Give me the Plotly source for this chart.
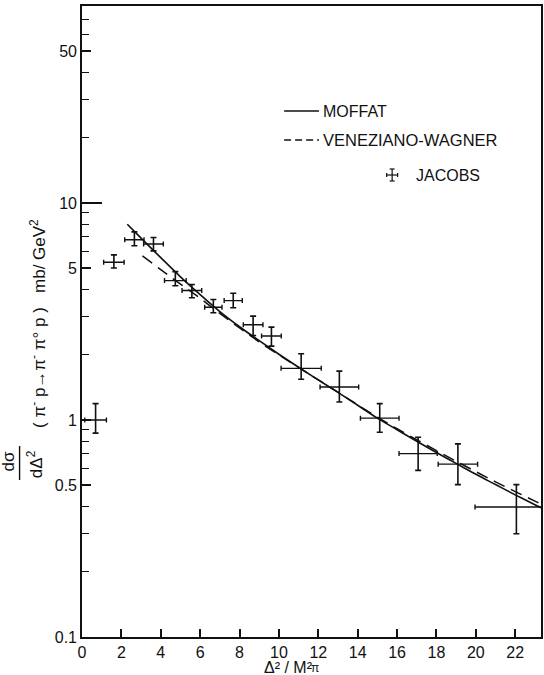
import plotly.graph_objects as go

# Jacobs measurements: momentum transfer Δ²/Mπ² and dσ/dΔ² (mb/GeV²)
jacobs_t = [0.69, 1.62, 2.66, 3.63, 4.74, 5.58, 6.67, 7.68, 8.69, 9.62,
            11.13, 13.07, 15.12, 17.07, 19.09, 22.06]
jacobs_sigma = [1.00, 5.33, 6.77, 6.47, 4.39, 3.95, 3.31, 3.55, 2.75, 2.44,
                1.73, 1.42, 1.02, 0.70, 0.626, 0.397]
jacobs_t_err = [0.55, 0.52, 0.49, 0.50, 0.55, 0.50, 0.44, 0.46, 0.50, 0.50,
                1.02, 0.98, 0.98, 0.97, 1.00, 2.10]
jacobs_sigma_hi = [1.19, 5.77, 7.36, 6.94, 4.83, 4.21, 3.59, 3.84, 3.01, 2.68,
                   2.02, 1.68, 1.19, 0.833, 0.776, 0.504]
jacobs_sigma_lo = [0.87, 5.02, 6.35, 6.02, 4.16, 3.66, 3.12, 3.29, 2.45, 2.19,
                   1.54, 1.21, 0.878, 0.586, 0.504, 0.299]

# Moffat prediction
moffat_t = [2.3, 3, 4, 5, 6, 7, 8, 9, 10, 11, 12, 13, 14, 15, 16, 17, 18,
            19, 20, 21, 22, 23, 23.4]
moffat_sigma = [7.98, 6.89, 5.60, 4.57, 3.78, 3.16, 2.69, 2.32, 2.01, 1.75,
                1.53, 1.34, 1.17, 1.02, 0.902, 0.798, 0.708, 0.631, 0.562,
                0.504, 0.452, 0.407, 0.391]

# Veneziano-Wagner prediction
vw_t = [3.07, 4, 5, 6, 7, 8, 9, 10, 11, 12, 13, 14, 15, 16, 17, 18, 19, 20,
        21, 22, 23, 23.4]
vw_sigma = [5.71, 4.93, 4.23, 3.64, 3.10, 2.66, 2.29, 1.995, 1.746, 1.531,
            1.343, 1.175, 1.030, 0.912, 0.811, 0.723, 0.646, 0.578, 0.519,
            0.468, 0.423, 0.407]

x_ticks = [0, 2, 4, 6, 8, 10, 12, 14, 16, 18, 20, 22]
y_ticks = [0.1, 0.5, 1, 5, 10, 50]
y_tick_text = ["0.1", "0.5", "1", "5", "10", "50"]
y_minor = [0.2, 0.3, 0.4, 0.6, 0.7, 0.8, 0.9, 2, 3, 4, 6, 7, 8, 9,
           20, 30, 40, 60, 70]

FONT = "Liberation Sans"
INK = "#111111"

err_plus = [h - s for h, s in zip(jacobs_sigma_hi, jacobs_sigma)]
err_minus = [s - l for s, l in zip(jacobs_sigma, jacobs_sigma_lo)]

fig = go.Figure()

fig.add_trace(go.Scatter(
    x=moffat_t, y=moffat_sigma, mode="lines", name="MOFFAT",
    line=dict(color=INK, width=1.6, shape="spline"),
))
fig.add_trace(go.Scatter(
    x=vw_t, y=vw_sigma, mode="lines", name="VENEZIANO-WAGNER",
    line=dict(color=INK, width=1.5, dash="12px,7px", shape="spline"),
))
fig.add_trace(go.Scatter(
    x=jacobs_t, y=jacobs_sigma, mode="markers", name="JACOBS",
    marker=dict(size=1, color=INK),
    error_x=dict(type="data", array=jacobs_t_err, color=INK,
                 thickness=1.4, width=2.5),
    error_y=dict(type="data", array=err_plus, arrayminus=err_minus,
                 color=INK, thickness=1.6, width=3),
))

# Second left axis carrying only the long tick at 10
fig.add_trace(go.Scatter(x=[None], y=[None], yaxis="y2", showlegend=False))

fig.update_layout(
    width=544, height=675,
    margin=dict(l=82, r=1, t=6, b=38),
    paper_bgcolor="white", plot_bgcolor="white",
    showlegend=False,
    font=dict(family=FONT, color=INK, size=16),
    xaxis=dict(
        range=[0, 23.31], tickvals=x_ticks, ticks="inside", ticklen=8,
        tickwidth=1.5, tickcolor=INK, showline=True, linecolor=INK,
        linewidth=1.6, mirror=True, showgrid=False, zeroline=False,
        tickfont=dict(size=16, family=FONT, color=INK),
    ),
    yaxis=dict(
        type="log", range=[-1, 1.908], tickvals=y_ticks, ticktext=y_tick_text,
        ticks="inside", ticklen=9, tickwidth=1.5, tickcolor=INK,
        showline=True, linecolor=INK, linewidth=1.6, mirror=True,
        showgrid=False, zeroline=False,
        tickfont=dict(size=16, family=FONT, color=INK),
        minor=dict(tickvals=y_minor, ticks="inside", ticklen=7,
                   tickwidth=1.3, tickcolor=INK, showgrid=False),
    ),
    yaxis2=dict(
        type="log", range=[-1, 1.908], overlaying="y", anchor="x",
        side="left", tickvals=[10], ticks="inside", ticklen=20,
        tickwidth=1.5, tickcolor=INK, showticklabels=False,
        showline=False, showgrid=False, zeroline=False,
    ),
)


def px(xp):
    return (xp - 82) / 461


def py(yp):
    return (637 - yp) / 631


# x title: Δ²/M² with a π subscript
fig.add_annotation(
    xref="paper", yref="paper", x=px(263), y=py(667),
    xanchor="left", yanchor="middle", text="Δ² / M²", showarrow=False,
    font=dict(size=16, family=FONT, color=INK),
)
fig.add_annotation(
    xref="paper", yref="paper", x=px(310), y=py(668),
    xanchor="left", yanchor="middle", text="π", showarrow=False,
    font=dict(size=12, family=FONT, color=INK),
)

# y title: "(π⁻p→π⁻π°p) mb/GeV²" plus the dσ/dΔ² fraction, all rotated
fig.add_annotation(
    xref="paper", yref="paper", x=-0.096, y=py(323),
    xanchor="center", yanchor="middle", textangle=-90,
    text="( π<sup>-</sup> p→π<sup>-</sup> π° p )   mb/ GeV<sup>2</sup>",
    showarrow=False, font=dict(size=17, family=FONT, color=INK),
)
fig.add_annotation(
    xref="paper", yref="paper", x=-0.158, y=py(461),
    xanchor="center", yanchor="middle", textangle=-90,
    text="dσ", showarrow=False, font=dict(size=17, family=FONT, color=INK),
)
fig.add_annotation(
    xref="paper", yref="paper", x=-0.102, y=py(464),
    xanchor="center", yanchor="middle", textangle=-90,
    text="dΔ<sup>2</sup>", showarrow=False,
    font=dict(size=17, family=FONT, color=INK),
)
fig.add_shape(
    type="line", xref="paper", yref="paper",
    x0=-0.136, x1=-0.136, y0=py(446), y1=py(480),
    line=dict(color=INK, width=1.4),
)

# Key
fig.add_shape(type="line", xref="paper", yref="paper",
              x0=px(285), x1=px(320), y0=py(111), y1=py(111),
              line=dict(color=INK, width=1.5))
fig.add_shape(type="line", xref="paper", yref="paper",
              x0=px(285), x1=px(320), y0=py(140), y1=py(140),
              line=dict(color=INK, width=1.5, dash="7px,4px"))
fig.add_shape(type="line", xref="paper", yref="paper",
              x0=px(388), x1=px(399), y0=py(175), y1=py(175),
              line=dict(color=INK, width=1.2))
fig.add_shape(type="line", xref="paper", yref="paper",
              x0=px(393.5), x1=px(393.5), y0=py(169), y1=py(181),
              line=dict(color=INK, width=1.2))
for xx in (388, 399):
    fig.add_shape(type="line", xref="paper", yref="paper",
                  x0=px(xx), x1=px(xx), y0=py(173), y1=py(177),
                  line=dict(color=INK, width=1.2))
fig.add_shape(type="line", xref="paper", yref="paper",
              x0=px(391), x1=px(396), y0=py(169), y1=py(169),
              line=dict(color=INK, width=1.2))
fig.add_shape(type="line", xref="paper", yref="paper",
              x0=px(391), x1=px(396), y0=py(181), y1=py(181),
              line=dict(color=INK, width=1.2))

for label, xp, yp, size in [("MOFFAT", 322, 111, 16),
                            ("VENEZIANO-WAGNER", 322, 140, 16.5),
                            ("JACOBS", 415, 175, 16)]:
    fig.add_annotation(
        xref="paper", yref="paper", x=px(xp), y=py(yp),
        xanchor="left", yanchor="middle", text=label, showarrow=False,
        font=dict(size=size, family=FONT, color=INK),
    )

fig.write_html("out.html")
